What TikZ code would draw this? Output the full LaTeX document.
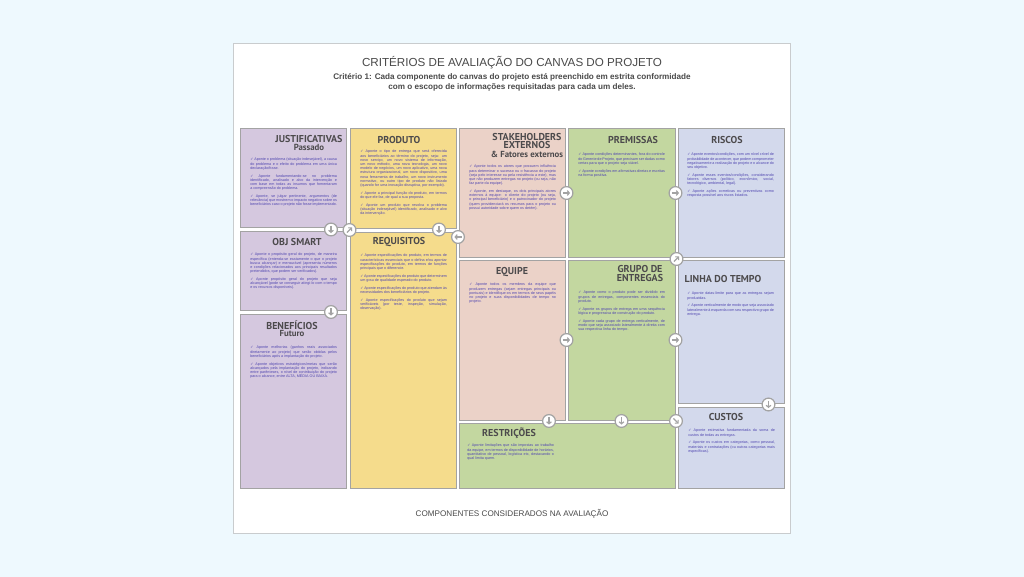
\documentclass[tikz,border=0pt]{standalone}
\usepackage{fontspec}
\setmainfont{Liberation Sans}
\newfontfamily\headfont{PT Sans}
\newfontfamily\chkfont{DejaVu Sans}
\definecolor{pagebg}{HTML}{EEF9FE}
\definecolor{cardline}{HTML}{C9CCCE}
\definecolor{cpurple}{HTML}{D5C8DF}
\definecolor{cyellow}{HTML}{F5DC8C}
\definecolor{cpink}{HTML}{EBD2C8}
\definecolor{cgreen}{HTML}{C3D7A0}
\definecolor{cblue}{HTML}{D3D9EC}
\definecolor{boxline}{HTML}{A3A3A3}
\definecolor{headcol}{HTML}{4C4A4C}
\definecolor{bodycol}{HTML}{5046B0}
\definecolor{titlecol}{HTML}{4A4A4A}
\newcommand{\ck}{{\chkfont ✓}\ }
\newcommand{\pp}{\par\vspace{2.7pt}}
\usetikzlibrary{arrows.meta}
\tikzset{
  x=0.75pt,y=-0.75pt,
  cell/.style={draw=boxline,line width=0.75pt},
  head/.style={font=\headfont\bfseries\fontsize{7.5}{7.5}\selectfont,text=headcol,inner sep=0pt,anchor=center,align=center},
  sub/.style={font=\headfont\bfseries\fontsize{6.6}{6.6}\selectfont,text=headcol,inner sep=0pt,anchor=center},
  body/.style={font=\fontsize{2.78}{3.15}\selectfont,text=bodycol,inner sep=0pt,anchor=north west,text width=65pt,align=justify,execute at begin node={\tolerance=9999\emergencystretch=4pt\hbadness=10000\hfuzz=5pt\hyphenpenalty=10000\exhyphenpenalty=10000\lefthyphenmin=60}},
  badge/.style={circle,draw=boxline,fill=white,line width=0.9pt,minimum size=9.6pt,inner sep=0pt},
  glyph/.style={draw=boxline,line width=0.85pt,-{Straight Barb[length=1.6pt,width=3.6pt]}},
}
\newcommand{\badgeat}[4]{%
  \node[badge] (#1) at (#2,#3) {};
  \draw[glyph] ([shift={(#4+180:2.7pt)}]#1.center) -- ([shift={(#4:2.7pt)}]#1.center);
}
\begin{document}
\begin{tikzpicture}
\useasboundingbox (0,0) rectangle (1024,577);
\fill[pagebg] (0,0) rectangle (1024,577);
\draw[cardline,fill=white,line width=0.6pt] (233.5,43.5) rectangle (790.5,533);

\node[font=\fontsize{8.73}{10}\selectfont,text=titlecol,inner sep=0pt] (title) at (512,62.5) {CRITÉRIOS DE AVALIAÇÃO DO CANVAS DO PROJETO};
\node[font=\bfseries\fontsize{6.1}{7.6}\selectfont,text=titlecol,inner sep=0pt,align=center] (subtitle) at (512,82) {Critério 1: Cada componente do canvas do projeto está preenchido em estrita conformidade\\com o escopo de informações requisitadas para cada um deles.};
\node[font=\fontsize{6.1}{7}\selectfont,text=titlecol,inner sep=0pt] (footer) at (512,514) {COMPONENTES CONSIDERADOS NA AVALIAÇÃO};

% cells
\draw[cell,fill=cpurple] (240,129) rectangle (346,228);
\draw[cell,fill=cpurple] (240,232) rectangle (346,310);
\draw[cell,fill=cpurple] (240,314) rectangle (346,488);
\draw[cell,fill=cyellow] (350,129) rectangle (456,229);
\draw[cell,fill=cyellow] (350,233) rectangle (456,488);
\draw[cell,fill=cpink] (459,129) rectangle (565,258);
\draw[cell,fill=cpink] (459,261) rectangle (565,420);
\draw[cell,fill=cgreen] (568,129) rectangle (675,258);
\draw[cell,fill=cgreen] (568,261) rectangle (675,420);
\draw[cell,fill=cgreen] (459,423) rectangle (675,488);
\draw[cell,fill=cblue] (678,129) rectangle (784,258);
\draw[cell,fill=cblue] (678,261) rectangle (784,403);
\draw[cell,fill=cblue] (678,407) rectangle (784,488);

% headings
\node[head] (hjust) at (309,139.5) {JUSTIFICATIVAS};
\node[sub] (hpass) at (309,147.5) {Passado};
\node[head] (hprod) at (399,140) {PRODUTO};
\node[head] (hobj) at (297,242) {OBJ SMART};
\node[head] (hreq) at (399,242) {REQUISITOS};
\node[head] (hben) at (292,325) {BENEFÍCIOS};
\node[sub] (hfut) at (292,333.5) {Futuro};
\node[head,font=\headfont\bfseries\fontsize{7.5}{6.1}\selectfont] (hstake) at (527,141) {STAKEHOLDERS\\EXTERNOS};
\node[sub] (hfat) at (527,154) {\& Fatores externos};
\node[head] (hprem) at (633,140) {PREMISSAS};
\node[head] (hequipe) at (512,272) {EQUIPE};
\node[head,font=\headfont\bfseries\fontsize{7.5}{7.2}\selectfont] (hgrupo) at (640,273.5) {GRUPO DE\\ENTREGAS};
\node[head] (hrest) at (509,433.5) {RESTRIÇÕES};
\node[head] (hcust) at (726,417) {CUSTOS};
\node[head] (hris) at (727,140) {RISCOS};
\node[head] (hlin) at (723,279) {LINHA DO TEMPO};

% body texts
\node[body] (tjust) at (250,158) {\ck Aponte o problema (situação indesejável), a causa do problema e o efeito do problema em uma única declaração/frase.\pp
\ck Aponte fundamentando-se no problema identificado, analisado e alvo da intervenção e com base em todas as insumos que fomentaram a compreensão do problema.\pp
\ck Aponte, se julgar pertinente, argumentos (de relevância) que mostrem o impacto negativo sobre os beneficiários caso o projeto não fosse implementado.};
\node[body] (tprod) at (360,150) {\ck Aponte o tipo de entrega que será oferecida aos beneficiários ao término do projeto, seja: um novo serviço, um novo sistema de informação, um novo método, uma nova tecnologia, um novo modelo de negócios, um novo aplicativo, uma nova estrutura organizacional, um novo dispositivo, uma nova ferramenta de trabalho, um novo instrumento normativo, ou outro tipo de produto não listado (quando for uma inovação disruptiva, por exemplo).\pp
\ck Aponte a principal função do produto, em termos do que ele faz, de qual a sua proposta.\pp
\ck Aponte um produto que resolva o problema (situação indesejável) identificado, analisado e alvo da intervenção.};
\node[body] (tobj) at (250,253) {\ck Aponte o propósito geral do projeto, de maneira específica (entenda-se exatamente o que o projeto busca alcançar) e mensurável (apresenta números e condições relacionados aos principais resultados pretendidos, que podem ser verificados).\pp
\ck Aponte propósito geral do projeto que seja alcançável (pode se conseguir atingi-lo com o tempo e os recursos disponíveis).};
\node[body] (tben) at (250,346) {\ck Aponte melhorias (ganhos reais associados diretamente ao projeto) que serão obtidas pelos beneficiários após a implantação do projeto.\pp
\ck Aponte objetivos estratégicos/metas que serão alcançados pela implantação do projeto, indicando entre parênteses, o nível de contribuição do projeto para o alcance, entre ALTA, MÉDIA OU BAIXA.};
\node[body] (treq) at (360,254) {\ck Aponte especificações do produto, em termos de características essenciais que o defina e/ou apontar especificações do produto, em termos de funções principais que o diferencie.\pp
\ck Aponte especificações do produto que determinem um grau de qualidade esperado do produto.\pp
\ck Aponte especificações do produto que atendam às necessidades dos beneficiários do projeto.\pp
\ck Aponte especificações do produto que sejam verificáveis (por teste, inspeção, simulação, observação).};
\node[body] (tstake) at (469,165) {\ck Aponte todos os atores que possuem influência para determinar o sucesso ou o fracasso do projeto (seja pelo interesse ou pela resistência a este), mas que não produzem entregas no projeto (ou seja, não faz parte da equipe).\pp
\ck Aponte, em destaque, os dois principais atores externos à equipe: o cliente do projeto (ou seja, o principal beneficiário) e o patrocinador do projeto (quem providenciará os recursos para o projeto ou possui autoridade sobre quem os detém).};
\node[body] (tprem) at (578,153) {\ck Aponte condições determinantes, fora do controle do Gerente de Projeto, que precisam ser dadas como certas para que o projeto seja viável.\pp
\ck Aponte condições em afirmativas diretas e escritas na forma positiva.};
\node[body] (tequipe) at (469,283) {\ck Aponte todos os membros da equipe que produzem entregas (sejam entregas principais ou pontuais) e identifique-os em termos de seus papéis no projeto e suas disponibilidades de tempo no projeto.};
\node[body] (tgrupo) at (578,291) {\ck Aponte como o produto pode ser dividido em grupos de entregas, componentes essenciais do produto.\pp
\ck Aponte os grupos de entrega em uma sequência lógica e progressiva de construção do produto.\pp
\ck Aponte cada grupo de entrega verticalmente, de modo que seja associado lateralmente à direita com sua respectiva linha do tempo.};
\node[body] (trest) at (467,444) {\ck Aponte limitações que são impostas ao trabalho da equipe, em termos de disponibilidade de horários, quantitativo de pessoal, logística etc, destacando o qual limita quem.};
\node[body] (tris) at (687,153) {\ck Aponte eventos/condições, com um nível crível de probabilidade de acontecer, que podem comprometer negativamente a realização do projeto e o alcance do seu objetivo.\pp
\ck Aponte esses eventos/condições, considerando fatores diversos (político, econômico, social, tecnológico, ambiental, legal).\pp
\ck Aponte ações corretivas ou preventivas como resposta possível aos riscos listados.};
\node[body] (tlin) at (687,292) {\ck Aponte datas-limite para que as entregas sejam produzidas.\pp
\ck Aponte verticalmente de modo que seja associado lateralmente à esquerda com seu respectivo grupo de entrega.};
\node[body] (tcust) at (688,429) {\ck Aponte estimativa fundamentada da soma de custos de todas as entregas.\pp
\ck Aponte os custos em categorias, como pessoal, materiais e contratações (ou outras categorias mais específicas).};

% arrow badges (last argument: direction in degrees, counter-clockwise from east)
\badgeat{a1}{331}{229.5}{-90}
\badgeat{a2}{349.5}{230}{45}
\badgeat{a3}{439}{229.5}{-90}
\badgeat{a4}{458}{237}{180}
\badgeat{a5}{331}{312}{-90}
\badgeat{a6}{566.5}{193}{0}
\badgeat{a7}{675.5}{193}{0}
\badgeat{a8}{566.5}{340}{0}
\badgeat{a9}{675.5}{340}{0}
\badgeat{a10}{676.5}{259}{45}
\badgeat{a11}{549}{421}{-90}
\badgeat{a12}{621.5}{421}{-90}
\badgeat{a13}{676}{421}{-45}
\badgeat{a14}{768.5}{404.5}{-90}
\end{tikzpicture}
\end{document}
